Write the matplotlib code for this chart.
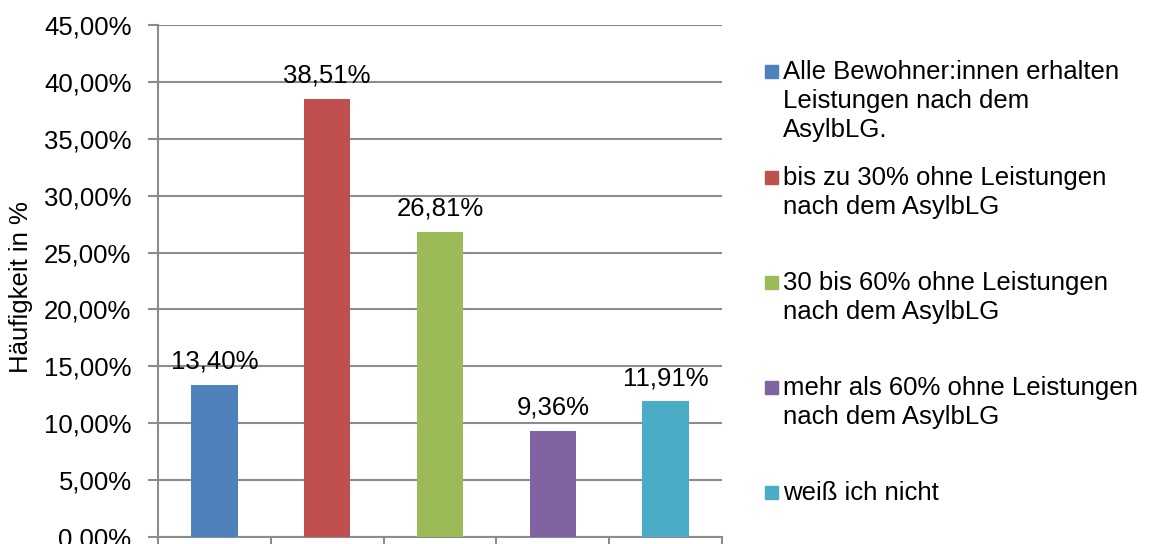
import matplotlib.pyplot as plt
from matplotlib.patches import Rectangle
from matplotlib.ticker import FuncFormatter

categories = [
    "Alle Bewohner:innen erhalten\nLeistungen nach dem\nAsylbLG.",
    "bis zu 30% ohne Leistungen\nnach dem AsylbLG",
    "30 bis 60% ohne Leistungen\nnach dem AsylbLG",
    "mehr als 60% ohne Leistungen\nnach dem AsylbLG",
    "weiß ich nicht",
]
values = [13.40, 38.51, 26.81, 9.36, 11.91]
colors = ["#4F81BD", "#C0504D", "#9BBB59", "#8064A2", "#4BACC6"]

plt.rcParams["font.family"] = ["Liberation Sans", "DejaVu Sans"]
grey = "#8c8c8c"
fs = 18.5

fig = plt.figure(figsize=(11.53, 5.44), dpi=100)
ax = fig.add_axes([158 / 1153, 7 / 544, (722 - 158) / 1153, 512 / 544])

x = range(len(values))
bars = ax.bar(x, values, width=0.41, color=colors, zorder=3)

for rect, v in zip(bars, values):
    ax.annotate(f"{v:.2f}%".replace(".", ","),
                (rect.get_x() + rect.get_width() / 2, v),
                xytext=(0, 8), textcoords="offset points",
                ha="center", va="bottom", fontsize=fs)

ax.set_xlim(-0.5, len(values) - 0.5)
ax.set_ylim(0, 45)
ax.set_yticks(range(0, 46, 5))
ax.yaxis.set_major_formatter(FuncFormatter(lambda v, p: f"{v:.2f}%".replace(".", ",")))
ax.set_xticks([i - 0.5 for i in range(len(values) + 1)])
ax.set_xticklabels([])
ax.tick_params(axis="x", direction="out", length=7, width=1.5, color=grey)
ax.tick_params(axis="y", direction="out", length=7, width=1.5, color=grey,
               labelsize=fs, pad=12)
ax.grid(axis="y", color=grey, linewidth=1.5, zorder=0)
for side in ["top", "right"]:
    ax.spines[side].set_visible(False)
for side in ["left", "bottom"]:
    ax.spines[side].set_color(grey)
    ax.spines[side].set_linewidth(1.5)
ax.set_ylabel("Häufigkeit in %", fontsize=fs)
ax.yaxis.set_label_coords(-137 / 564, (537 - 287) / 512)
ax.yaxis.label.set_va("center")

# legend drawn by hand, Excel style
baselines = [79, 185, 290, 395, 500]
for lab, col, y in zip(categories, colors, baselines):
    fig.patches.append(Rectangle((765 / 1153, 1 - (y - 1) / 544), 13 / 1153, 13 / 544,
                                 transform=fig.transFigure, color=col))
    fig.text(783 / 1153, 1 - (y - 19) / 544, lab, fontsize=fs, va="top", ha="left",
             linespacing=1.25)

fig.savefig("out.png", dpi=100)
